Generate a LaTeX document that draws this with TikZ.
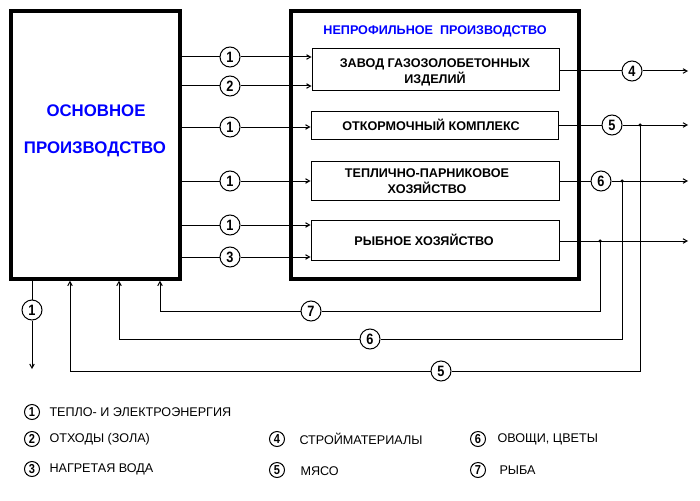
\documentclass[tikz,border=0pt]{standalone}
\usepackage{fontspec}
\setmainfont{Liberation Sans}
\newfontfamily\numfont{Liberation Sans}[FakeStretch=0.85]
\usetikzlibrary{arrows.meta}
\definecolor{tblue}{RGB}{0,0,255}
\begin{document}
\begin{tikzpicture}[x=1pt,y=-1pt,line width=1pt,
  heavybox/.style={draw,line width=3.5pt,inner sep=0pt},
  unitbox/.style={draw,line width=1pt,inner sep=0pt},
  btext/.style={inner sep=0pt,align=center,font=\bfseries\fontsize{12.6}{15.5}\selectfont},
  bluetext/.style={inner sep=0pt,text=tblue,font=\bfseries\fontsize{16.8}{18}\selectfont},
  titletext/.style={inner sep=0pt,text=tblue,font=\bfseries\fontsize{12.6}{14}\selectfont},
  num/.style={circle,draw,fill=white,line width=1pt,minimum size=20pt,inner sep=0pt,font=\numfont\bfseries\fontsize{15}{15}\selectfont},
  lnum/.style={circle,draw,fill=white,line width=1pt,minimum size=15pt,inner sep=0pt,font=\numfont\bfseries\fontsize{13}{13}\selectfont},
  ltext/.style={inner sep=0pt,anchor=west,font=\fontsize{12.6}{14}\selectfont},
  arr/.style={-{Straight Barb[length=4pt,width=4.5pt,line width=1pt]}},
  dot/.style={circle,fill,inner sep=0pt,minimum size=3.5pt}]
\useasboundingbox (0,0) rectangle (700,500);
% main boxes
\node[heavybox,minimum width=169pt,minimum height=268pt] (main) at (95.5,145) {};
\node[bluetext] (mainA) at (96,111) {ОСНОВНОЕ};
\node[bluetext] (mainB) at (95,149) {ПРОИЗВОДСТВО};
\node[heavybox,minimum width=288pt,minimum height=268pt] (np) at (435,145) {};
\node[titletext] (npt) at (435,31) {НЕПРОФИЛЬНОЕ\ \ ПРОИЗВОДСТВО};
% unit boxes
\node[unitbox,minimum width=247pt,minimum height=42pt] (b1) at (435.5,70) {};
\node[btext] (b1t) at (435,72.5) {ЗАВОД ГАЗОЗОЛОБЕТОННЫХ\\ИЗДЕЛИЙ};
\node[unitbox,minimum width=247pt,minimum height=28pt] (b2) at (434.5,125) {};
\node[btext] (b2t) at (431,125) {ОТКОРМОЧНЫЙ КОМПЛЕКС};
\node[unitbox,minimum width=248pt,minimum height=39pt] (b3) at (435,180.5) {};
\node[btext] (b3t) at (427,181) {ТЕПЛИЧНО-ПАРНИКОВОЕ\\ХОЗЯЙСТВО};
\node[unitbox,minimum width=248pt,minimum height=40pt] (b4) at (435,240) {};
\node[btext] (b4t) at (424,240) {РЫБНОЕ ХОЗЯЙСТВО};
% inputs
\node[num] (i1) at (230,57) {1};
\node[num] (i2) at (230,86) {2};
\node[num] (i3) at (230,127) {1};
\node[num] (i4) at (230,181) {1};
\node[num] (i5) at (230,225) {1};
\node[num] (i6) at (230,257) {3};
\draw (main.east |- i1) -- (i1); \draw[arr] (i1) -- (b1.west |- i1);
\draw (main.east |- i2) -- (i2); \draw[arr] (i2) -- (b1.west |- i2);
\draw (main.east |- i3) -- (i3); \draw[arr] (i3) -- (b2.west |- i3);
\draw (main.east |- i4) -- (i4); \draw[arr] (i4) -- (b3.west |- i4);
\draw (main.east |- i5) -- (i5); \draw[arr] (i5) -- (b4.west |- i5);
\draw (main.east |- i6) -- (i6); \draw[arr] (i6) -- (b4.west |- i6);
% outputs
\node[num] (o4) at (632,71) {4};
\coordinate (e4) at (688,71);
\draw (b1.east |- o4) -- (o4); \draw[arr] (o4) -- (e4);
\node[num] (o5) at (612,125) {5};
\coordinate (j5) at (640,125);
\coordinate (e5) at (688,125);
\draw (b2.east |- o5) -- (o5) -- (j5); \draw[arr] (j5) -- (e5);
\node[num] (o6) at (601,181) {6};
\coordinate (j6) at (622,181);
\coordinate (e6) at (688,181);
\draw (b3.east |- o6) -- (o6) -- (j6); \draw[arr] (j6) -- (e6);
\coordinate (j7) at (600,241);
\coordinate (e7) at (688,241);
\draw[arr] (b4.east |- j7) -- (e7);
% feedback lines
\coordinate (k7) at (600,311);
\node[num] (f7) at (311,311) {7};
\draw (j7) -- (k7) -- (f7);
\draw[arr] (f7) -| (main.south -| 160,0);
\coordinate (k6) at (622,339);
\node[num] (f6) at (370,339) {6};
\draw (j6) -- (k6) -- (f6);
\draw[arr] (f6) -| (main.south -| 119,0);
\coordinate (k5) at (640,371);
\node[num] (f5) at (441,371) {5};
\draw (j5) -- (k5) -- (f5);
\draw[arr] (f5) -| (main.south -| 70,0);
\node[dot] at (j5) {};
\node[dot] at (j6) {};
\node[dot] at (j7) {};
% output downwards
\node[num] (d1) at (32,310) {1};
\coordinate (d1e) at (32,369);
\draw (main.south -| d1) -- (d1); \draw[arr] (d1) -- (d1e);
% legend
\node[lnum] (l1) at (32,412) {1};
\node[ltext] (t1) at (49,412) {ТЕПЛО- И ЭЛЕКТРОЭНЕРГИЯ};
\node[lnum] (l2) at (32,439) {2};
\node[ltext] (t2) at (49,439) {ОТХОДЫ (ЗОЛА)};
\node[lnum] (l3) at (32,469) {3};
\node[ltext] (t3) at (49,469) {НАГРЕТАЯ ВОДА};
\node[lnum] (l4) at (277,439) {4};
\node[ltext] (t4) at (299,439) {СТРОЙМАТЕРИАЛЫ};
\node[lnum] (l5) at (277,470) {5};
\node[ltext] (t5) at (300,471) {МЯСО};
\node[lnum] (l6) at (478,439) {6};
\node[ltext] (t6) at (497,439) {ОВОЩИ, ЦВЕТЫ};
\node[lnum] (l7) at (478,470) {7};
\node[ltext] (t7) at (499,470) {РЫБА};
\end{tikzpicture}
\end{document}
